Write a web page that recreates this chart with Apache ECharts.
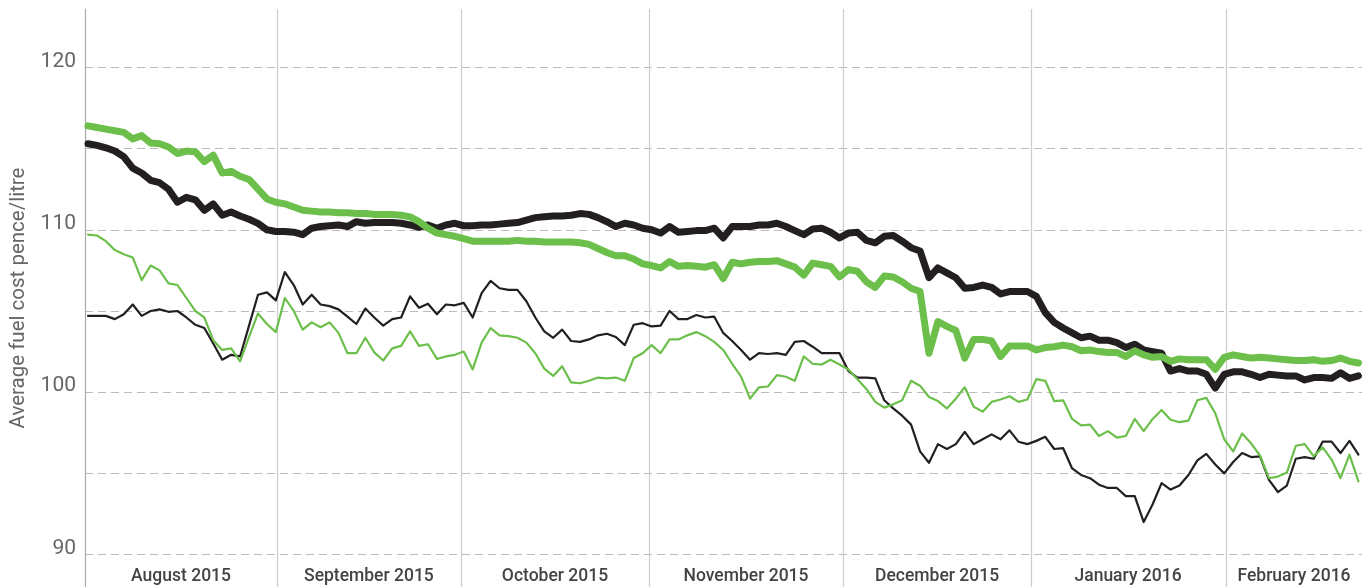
<!DOCTYPE html>
<html>
<head>
<meta charset="utf-8">
<title>Average fuel cost</title>
<script src="https://cdn.jsdelivr.net/npm/echarts@6/dist/echarts.min.js"></script>
<style>
  html, body { margin: 0; padding: 0; background: #fff; }
  #main { width: 1362px; height: 587px; }
</style>
</head>
<body>
<div id="main"></div>
<script>
// x is the trading-day index (0 = start of August 2015)
const monthStarts = [21.13, 41.69, 62.71, 84.40, 105.41, 127.21]
const monthLabelPos = [10.4, 31.4, 52.2, 73.55, 94.9, 116.25, 134.8]
const monthLabels = ['August 2015', 'September 2015', 'October 2015', 'November 2015',
  'December 2015', 'January 2016', 'February 2016']
const yTicks = [90, 95, 100, 105, 110, 115, 120]
const yLabels = [90, 100, 110, 120]

// thick lines
const thickBlack = [
  115.3, 115.2, 115.05, 114.85, 114.5, 113.8, 113.5, 113.05, 112.9, 112.5,
  111.7, 112.0, 111.85, 111.2, 111.6, 110.9, 111.1, 110.85, 110.65, 110.4,
  110.0, 109.9, 109.9, 109.85, 109.7, 110.1, 110.2, 110.25, 110.3, 110.2,
  110.5, 110.4, 110.45, 110.45, 110.45, 110.4, 110.3, 110.15, 110.3, 110.1,
  110.3, 110.4, 110.25, 110.25, 110.3, 110.3, 110.35, 110.4, 110.45, 110.6,
  110.75, 110.8, 110.85, 110.85, 110.9, 111.0, 110.95, 110.75, 110.5, 110.2,
  110.4, 110.3, 110.1, 110.0, 109.8, 110.2, 109.85, 109.9, 109.95, 109.95,
  110.1, 109.5, 110.2, 110.2, 110.2, 110.3, 110.3, 110.4, 110.2, 109.95,
  109.7, 110.05, 110.1, 109.85, 109.5, 109.8, 109.85, 109.35, 109.2, 109.6,
  109.65, 109.3, 108.9, 108.7, 107.05, 107.65, 107.35, 107.05, 106.4, 106.45,
  106.6, 106.45, 106.05, 106.2, 106.2, 106.2, 105.9, 104.9, 104.3, 103.95,
  103.65, 103.35, 103.45, 103.2, 103.2, 103.05, 102.75, 102.95, 102.6, 102.5,
  102.4, 101.3, 101.45, 101.3, 101.3, 101.1, 100.25, 101.1, 101.25, 101.25,
  101.1, 100.9, 101.1, 101.05, 101.0, 101.0, 100.75, 100.9, 100.9, 100.85,
  101.2, 100.85, 101.0
]
const thickGreen = [
  116.4, 116.3, 116.2, 116.1, 116.0, 115.6, 115.8, 115.35, 115.3, 115.1,
  114.7, 114.85, 114.8, 114.2, 114.6, 113.5, 113.6, 113.3, 113.1, 112.5,
  111.9, 111.7, 111.6, 111.4, 111.2, 111.15, 111.1, 111.1, 111.05, 111.05,
  111.0, 111.0, 110.95, 110.95, 110.95, 110.9, 110.8, 110.5, 110.1, 109.8,
  109.7, 109.6, 109.45, 109.3, 109.3, 109.3, 109.3, 109.3, 109.35, 109.3,
  109.3, 109.25, 109.25, 109.25, 109.25, 109.2, 109.1, 108.85, 108.6, 108.4,
  108.4, 108.2, 107.9, 107.8, 107.65, 108.05, 107.75, 107.8, 107.75, 107.7,
  107.85, 107.0, 108.0, 107.9, 108.0, 108.05, 108.05, 108.1, 107.9, 107.7,
  107.2, 107.95, 107.85, 107.75, 107.1, 107.55, 107.45, 106.8, 106.45, 107.15,
  107.1, 106.8, 106.4, 106.2, 102.4, 104.35, 104.05, 103.8, 102.1, 103.25,
  103.25, 103.15, 102.2, 102.85, 102.85, 102.85, 102.6, 102.75, 102.8, 102.9,
  102.8, 102.55, 102.6, 102.5, 102.45, 102.45, 102.2, 102.55, 102.3, 102.15,
  102.2, 101.9, 102.05, 102.0, 102.0, 102.0, 101.4, 102.15, 102.3, 102.2,
  102.1, 102.15, 102.1, 102.05, 102.0, 101.95, 101.95, 102.0, 101.9, 101.95,
  102.1, 101.9, 101.8
]

// thin lines
const thinBlack = [
  104.7, 104.7, 104.7, 104.5, 104.8, 105.4, 104.7, 105.0, 105.1, 104.95,
  105.0, 104.6, 104.15, 103.95, 103.0, 102.0, 102.3, 102.2, 104.1, 106.0,
  106.15, 105.65, 107.4, 106.6, 105.4, 106.0, 105.4, 105.3, 105.1, 104.65,
  104.2, 105.15, 104.6, 104.1, 104.5, 104.6, 105.9, 105.2, 105.45, 104.8,
  105.4, 105.35, 105.5, 104.6, 106.1, 106.85, 106.4, 106.3, 106.3, 105.6,
  104.6, 103.75, 103.35, 103.85, 103.15, 103.1, 103.25, 103.5, 103.6, 103.4,
  102.9, 104.15, 104.25, 104.05, 104.1, 105.0, 104.5, 104.5, 104.75, 104.6,
  104.65, 103.65, 103.15, 102.6, 102.0, 102.4, 102.35, 102.4, 102.3, 103.1,
  103.15, 102.8, 102.4, 102.4, 102.4, 101.3, 100.9, 100.9, 100.85, 99.5,
  99.0, 98.55, 98.0, 96.35, 95.65, 96.8, 96.5, 96.8, 97.55, 96.8,
  97.1, 97.4, 97.1, 97.65, 96.95, 96.8, 97.0, 97.25, 96.5, 96.55,
  95.3, 94.9, 94.7, 94.3, 94.1, 94.1, 93.6, 93.6, 92.0, 93.1,
  94.4, 94.0, 94.25, 94.9, 95.8, 96.2, 95.55, 95.0, 95.7, 96.25,
  96.0, 96.05, 94.6, 93.85, 94.25, 95.9, 96.0, 95.9, 96.95, 96.95,
  96.25, 97.0, 96.15
]
const thinGreen = [
  109.7, 109.65, 109.3, 108.75, 108.5, 108.3, 106.9, 107.8, 107.5, 106.7,
  106.6, 105.8, 105.0, 104.6, 103.2, 102.6, 102.7, 101.9, 103.4, 104.85,
  104.2, 103.7, 105.8, 105.0, 103.85, 104.3, 104.0, 104.3, 103.65, 102.4,
  102.4, 103.35, 102.45, 101.95, 102.7, 102.85, 103.75, 102.85, 102.95, 102.05,
  102.2, 102.3, 102.5, 101.4, 103.05, 103.95, 103.5, 103.45, 103.35, 103.05,
  102.4, 101.45, 101.0, 101.6, 100.6, 100.55, 100.7, 100.9, 100.85, 100.9,
  100.7, 102.1, 102.4, 102.9, 102.4, 103.25, 103.25, 103.5, 103.7, 103.45,
  103.1, 102.6, 101.75, 100.95, 99.6, 100.3, 100.35, 101.05, 100.95, 100.7,
  102.2, 101.75, 101.7, 102.0, 101.7, 101.4, 100.8, 100.2, 99.4, 99.05,
  99.25, 99.5, 100.7, 100.4, 99.7, 99.45, 99.0, 99.6, 100.3, 99.1,
  98.8, 99.4, 99.55, 99.75, 99.4, 99.55, 100.8, 100.7, 99.45, 99.5,
  98.35, 97.95, 98.0, 97.3, 97.6, 97.2, 97.3, 98.35, 97.6, 98.35,
  98.9, 98.3, 98.15, 98.25, 99.5, 99.65, 98.7, 97.1, 96.35, 97.45,
  96.85, 96.1, 94.7, 94.8, 95.05, 96.7, 96.8, 96.05, 96.6, 95.85,
  94.7, 96.15, 94.5
]

const BLACK = '#231f20'
const GREEN = '#6cbf4a'

function pairs(arr) {
  return arr.map((v, i) => [i, v])
}

function lineSeries(name, data, color, width) {
  return {
    name: name,
    type: 'line',
    data: pairs(data),
    symbol: 'none',
    lineStyle: { color: color, width: width, join: 'round', cap: 'round' },
    itemStyle: { color: color },
    silent: true
  }
}

function draw() {
  var myChart = echarts.init(document.getElementById('main'))
  var option = {
    animation: false,
    grid: { left: 85, right: 0, top: 9, bottom: 0, containLabel: false, outerBoundsMode: 'none' },
    xAxis: {
      type: 'value',
      min: -0.335,
      max: 142.4,
      axisLine: { show: false },
      axisTick: { show: false, customValues: monthStarts },
      splitLine: { show: true, lineStyle: { color: '#cccccc', width: 1.2 } },
      axisLabel: {
        inside: true,
        customValues: monthLabelPos,
        margin: 1,
        fontFamily: 'Roboto',
        fontSize: 17.5,
        fontWeight: 500,
        color: '#444',
        formatter: function (val) {
          const idx = monthLabelPos.findIndex(p => Math.abs(p - val) < 0.01)
          return idx >= 0 ? monthLabels[idx] : ''
        }
      }
    },
    yAxis: {
      type: 'value',
      min: 88,
      max: 123.6,
      name: 'Average fuel cost pence/litre',
      nameLocation: 'middle',
      nameGap: 54,
      nameTextStyle: { fontFamily: 'Roboto', fontSize: 20.5, color: '#666' },
      axisLine: { show: true, onZero: false, lineStyle: { color: '#aaaaaa', width: 1.2 } },
      axisTick: { show: false, customValues: yTicks },
      splitLine: { show: true, lineStyle: { color: '#bbbbbb', type: [8, 5], width: 1 } },
      axisLabel: {
        customValues: yLabels,
        margin: 9,
        fontFamily: 'Roboto',
        fontSize: 21,
        lineHeight: 12,
        color: '#666',
        verticalAlign: 'bottom'
      }
    },
    series: [
      lineSeries('Thin black', thinBlack, BLACK, 2.2),
      lineSeries('Thin green', thinGreen, GREEN, 2.2),
      lineSeries('Thick black', thickBlack, BLACK, 7),
      lineSeries('Thick green', thickGreen, GREEN, 7)
    ]
  }
  myChart.setOption(option)
}

window.onload = draw
</script>
</body>
</html>
